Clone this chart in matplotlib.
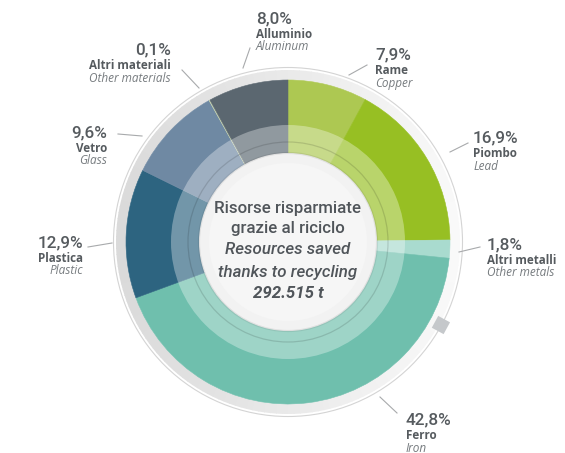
import matplotlib
matplotlib.use("Agg")
import matplotlib.pyplot as plt
from matplotlib.patches import Wedge, Circle, RegularPolygon
from matplotlib.colors import to_rgb
import numpy as np

# ---- data -------------------------------------------------------------
names_it = ["Rame", "Piombo", "Altri metalli", "Ferro", "Plastica",
            "Vetro", "Altri materiali", "Alluminio"]
names_en = ["Copper", "Lead", "Other metals", "Iron", "Plastic",
            "Glass", "Other materials", "Aluminum"]
shares = [7.9, 16.9, 1.8, 42.8, 12.9, 9.6, 0.1, 8.0]
colors = ["#adc852", "#97bf23", "#a9dbcf", "#6fbfad", "#2d6480",
          "#6f89a3", "#c6d3ae", "#5b6770"]
total_t = "292.515 t"
center_lines = ["Risorse risparmiate", "grazie al riciclo",
                "Resources saved", "thanks to recycling", total_t]

# ---- layout (pixel space, y measured from the top) --------------------
W, H = 565, 453
CX, CY_TOP = 288, 242
R_OUT, R_BAND, R_LINE, R_CORE = 162, 117, 100, 89

# anchor x, baseline y of the percentage, alignment, leader line (x0, y0, x1, y1)
label_layout = [
    (375, 59, "left", (349, 75, 367, 65)),     # Rame
    (473, 142, "left", (450, 152, 468, 143)),  # Piombo
    (487, 249, "left", (459, 252, 480, 247)),  # Altri metalli
    (406, 424, "left", (380, 397, 397, 413)),  # Ferro
    (83, 247, "right", (112, 243, 88, 247)),   # Plastica
    (107, 137, "right", (142, 136, 118, 134)), # Vetro
    (171, 54, "right", (199, 88, 182, 70)),    # Altri materiali
    (256, 23, "left", (243, 68, 250, 48)),     # Alluminio
]

FONT_NUM = "Roboto"
FONT_TXT = "Open Sans"
DARK = "#565b5f"
SOFT = "#767b7f"


def Y(y):
    return H - y


fig = plt.figure(figsize=(W / 100, H / 100), dpi=100)
ax = fig.add_axes([0, 0, 1, 1])
center = (CX, Y(CY_TOP))

# outer dial: thin rim line and a soft grey band shaded towards the left
ax.add_patch(Circle(center, 174.5, fill=False, edgecolor="#d4d4d4",
                    linewidth=0.8, zorder=1))
c_light = np.array(to_rgb("#f9f9f9"))
c_dark = np.array(to_rgb("#dadada"))
step = 2.0
for a0 in np.arange(0, 360, step):
    mid = np.deg2rad(a0 + step / 2)
    t = (1 - np.cos(mid)) / 2
    col = c_light * (1 - t) + c_dark * t
    ax.add_patch(Wedge(center, 172, a0, a0 + step + 0.3, width=10,
                       facecolor=col, edgecolor="none", zorder=2))

# the donut itself
wedges, _ = ax.pie(shares, colors=colors, startangle=90, counterclock=False,
                   radius=R_OUT, center=center,
                   wedgeprops=dict(width=R_OUT - R_CORE, linewidth=0.4),
                   frame=True)
for w in wedges:
    w.set_edgecolor(w.get_facecolor())
    w.set_zorder(3)

# lighter inner band, inner rim line and the central disc
ax.add_patch(Wedge(center, R_BAND, 0, 360, width=R_BAND - R_CORE,
                   facecolor=(1, 1, 1, 0.33), edgecolor="none", zorder=4))
ax.add_patch(Circle(center, R_LINE, fill=False, edgecolor=(0, 0, 0, 0.13),
                    linewidth=0.9, zorder=5))
ax.add_patch(Circle(center, R_CORE, facecolor="#f2f2f2",
                    edgecolor=(0, 0, 0, 0.07), linewidth=1.6, zorder=6))
ax.add_patch(Circle(center, R_CORE - 10, facecolor="#f6f6f6",
                    edgecolor="none", zorder=6))

# small marker on the rim
mk_ang = np.deg2rad(-28.5)
ax.add_patch(RegularPolygon((CX + 174 * np.cos(mk_ang), Y(CY_TOP) + 174 * np.sin(mk_ang)),
                            numVertices=4, radius=9.5,
                            orientation=np.deg2rad(45 - 28.5),
                            facecolor="#c5c8cb", edgecolor="none", zorder=7))

# central text
center_y = [208, 229, 250, 272, 293]
center_style = [("normal", "medium"), ("normal", "medium"),
                ("italic", "medium"), ("italic", "medium"), ("italic", "bold")]
for txt, yy, (st, wt) in zip(center_lines, center_y, center_style):
    ax.text(CX, Y(yy), txt, ha="center", va="center", fontsize=12.2,
            family=FONT_NUM, style=st, weight=wt, color="#50555a", zorder=8)

# labels with leader lines
for name_it, name_en, val, (lx, ly, ha, ld) in zip(names_it, names_en, shares,
                                                  label_layout):
    pct = f"{val:.1f}".replace(".", ",") + "%"
    ax.text(lx, Y(ly), pct, ha=ha, va="baseline", fontsize=12.3,
            family=FONT_NUM, weight="medium", color=DARK)
    ax.text(lx, Y(ly + 15), name_it, ha=ha, va="baseline", fontsize=8.4,
            family=FONT_TXT, weight="bold", color=DARK)
    ax.text(lx, Y(ly + 27.5), name_en, ha=ha, va="baseline", fontsize=8.5,
            family=FONT_TXT, style="italic", color=SOFT)
    x0, y0, x1, y1 = ld
    ax.plot([x0, x1], [Y(y0), Y(y1)], color="#a8aaac", linewidth=0.8)

ax.set_xlim(0, W)
ax.set_ylim(0, H)
ax.set_aspect("equal")
ax.axis("off")
fig.savefig("out.png", dpi=100, facecolor="white")
